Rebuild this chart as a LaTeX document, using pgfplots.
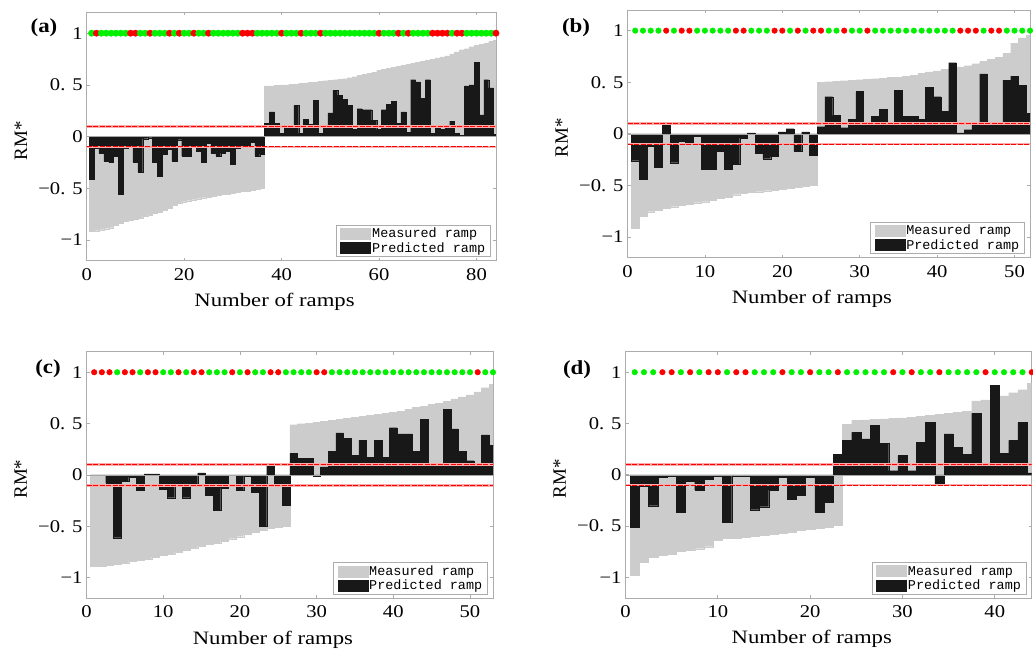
\documentclass[border=0pt]{standalone}
\usepackage{fontspec}
\setmainfont{Liberation Serif}
\newfontfamily\legfont{Liberation Mono}
\usepackage{pgfplots}
\usepackage{pgfplotstable}
\pgfplotsset{compat=1.18}
\definecolor{measgray}{RGB}{204,204,204}
\definecolor{predblk}{RGB}{24,24,24}
\definecolor{dotgreen}{RGB}{0,240,0}
\definecolor{dotred}{RGB}{250,0,0}
\definecolor{halo}{RGB}{255,170,170}

% i = ramp index, m = measured ramp, p = predicted ramp, c = 1 correct (green) / 0 wrong (red)
\pgfplotstableread{
i m p c
1 -0.913 -0.41 1
2 -0.91 -0.11 0
3 -0.90 -0.16 1
4 -0.89 -0.24 1
5 -0.88 -0.25 1
6 -0.86 -0.19 1
7 -0.84 -0.56 1
8 -0.82 -0.11 1
9 -0.81 -0.08 0
10 -0.80 -0.25 0
11 -0.79 -0.34 1
12 -0.77 -0.02 1
13 -0.76 -0.01 0
14 -0.74 -0.25 1
15 -0.73 -0.38 1
16 -0.71 -0.17 1
17 -0.69 -0.12 0
18 -0.66 -0.24 1
19 -0.64 -0.03 0
20 -0.63 -0.19 1
21 -0.62 -0.19 1
22 -0.61 -0.08 0
23 -0.60 -0.14 1
24 -0.59 -0.25 1
25 -0.585 -0.06 0
26 -0.58 -0.16 1
27 -0.57 -0.19 1
28 -0.56 -0.16 1
29 -0.555 -0.14 1
30 -0.55 -0.27 1
31 -0.54 -0.11 1
32 -0.53 -0.10 0
33 -0.525 -0.10 0
34 -0.52 -0.05 0
35 -0.51 -0.19 1
36 -0.50 -0.17 1
37 0.49 0.13 1
38 0.49 0.24 1
39 0.495 0.13 1
40 0.50 0.03 0
41 0.50 0.10 1
42 0.505 0.10 1
43 0.51 0.30 1
44 0.515 0.03 0
45 0.52 0.17 1
46 0.525 0.12 1
47 0.53 0.35 1
48 0.535 0.03 0
49 0.54 0.10 1
50 0.545 0.23 1
51 0.55 0.45 1
52 0.555 0.40 1
53 0.56 0.36 1
54 0.57 0.30 1
55 0.58 0.07 1
56 0.59 0.27 1
57 0.60 0.26 1
58 0.61 0.26 1
59 0.62 0.16 1
60 0.64 0.07 0
61 0.65 0.26 1
62 0.66 0.31 1
63 0.67 0.34 1
64 0.68 0.13 0
65 0.69 0.24 1
66 0.70 0.04 0
67 0.71 0.55 1
68 0.72 0.53 1
69 0.73 0.37 1
70 0.74 0.55 1
71 0.75 0.03 0
72 0.76 0.08 0
73 0.77 0.07 0
74 0.78 0.08 0
75 0.80 0.15 1
76 0.82 0.03 0
77 0.84 0.01 0
78 0.85 0.49 1
79 0.87 0.50 1
80 0.88 0.72 1
81 0.89 0.21 1
82 0.90 0.55 1
83 0.92 0.47 1
84 0.93 0.02 0
}\tabA

\pgfplotstableread{
i m p c
1 -0.916 -0.26 1
2 -0.80 -0.44 1
3 -0.754 -0.12 1
4 -0.738 -0.32 1
5 -0.72 0.10 0
6 -0.705 -0.28 1
7 -0.69 -0.07 0
8 -0.68 -0.09 0
9 -0.667 -0.02 1
10 -0.657 -0.34 1
11 -0.64 -0.34 1
12 -0.625 -0.17 1
13 -0.61 -0.34 1
14 -0.59 -0.29 0
15 -0.576 -0.04 0
16 -0.566 0.01 1
17 -0.56 -0.19 1
18 -0.55 -0.24 1
19 -0.544 -0.22 0
20 -0.537 0.02 0
21 -0.527 0.05 1
22 -0.518 -0.17 0
23 -0.505 0.02 1
24 -0.495 -0.21 0
25 0.50 0.07 0
26 0.505 0.36 1
27 0.51 0.18 1
28 0.515 0.06 0
29 0.52 0.14 1
30 0.525 0.41 1
31 0.53 0.10 0
32 0.535 0.17 1
33 0.54 0.24 1
34 0.545 0.10 1
35 0.55 0.42 1
36 0.56 0.17 1
37 0.57 0.17 1
38 0.585 0.14 1
39 0.60 0.45 1
40 0.61 0.36 1
41 0.625 0.22 1
42 0.64 0.69 1
43 0.65 0.01 0
44 0.66 0.04 0
45 0.68 0.09 0
46 0.70 0.58 1
47 0.72 0.08 0
48 0.74 0.10 0
49 0.78 0.52 1
50 0.88 0.56 1
51 0.93 0.47 1
52 0.96 0.20 1
}\tabB

\pgfplotstableread{
i m p c
1 -0.89 0.00 0
2 -0.89 0.00 0
3 -0.88 -0.08 0
4 -0.87 -0.61 1
5 -0.86 -0.06 0
6 -0.84 -0.02 0
7 -0.83 -0.15 1
8 -0.82 0.01 0
9 -0.80 0.01 0
10 -0.78 -0.14 1
11 -0.77 -0.22 1
12 -0.75 -0.11 0
13 -0.73 -0.22 1
14 -0.71 -0.09 0
15 -0.69 0.02 0
16 -0.67 -0.20 1
17 -0.66 -0.34 1
18 -0.64 -0.13 1
19 -0.62 0.00 0
20 -0.60 -0.15 1
21 -0.58 -0.01 0
22 -0.56 -0.17 1
23 -0.54 -0.50 1
24 -0.52 0.09 0
25 -0.51 -0.08 0
26 -0.50 -0.29 1
27 0.49 0.21 1
28 0.50 0.16 1
29 0.505 0.16 1
30 0.51 -0.01 0
31 0.52 0.08 0
32 0.53 0.23 1
33 0.54 0.41 1
34 0.55 0.36 1
35 0.56 0.19 1
36 0.57 0.34 1
37 0.58 0.17 1
38 0.59 0.34 1
39 0.60 0.17 1
40 0.61 0.46 1
41 0.62 0.40 1
42 0.64 0.40 1
43 0.66 0.23 1
44 0.67 0.54 1
45 0.69 0.10 1
46 0.70 0.10 1
47 0.72 0.64 1
48 0.74 0.45 1
49 0.76 0.23 1
50 0.78 0.14 1
51 0.81 0.10 0
52 0.85 0.39 1
53 0.88 0.29 1
}\tabC

\pgfplotstableread{
i m p c
1 -0.98 -0.51 1
2 -0.85 -0.11 1
3 -0.80 -0.30 1
4 -0.78 -0.02 0
5 -0.77 -0.01 0
6 -0.745 -0.36 1
7 -0.735 -0.06 0
8 -0.72 -0.15 1
9 -0.70 -0.04 0
10 -0.64 -0.01 0
11 -0.62 -0.46 1
12 -0.615 -0.01 0
13 -0.61 -0.01 0
14 -0.60 -0.34 1
15 -0.59 -0.31 1
16 -0.58 -0.15 1
17 -0.57 -0.02 0
18 -0.56 -0.24 1
19 -0.54 -0.20 1
20 -0.53 -0.02 0
21 -0.52 -0.36 1
22 -0.51 -0.27 1
23 -0.49 0.20 0
24 0.49 0.335 1
25 0.53 0.415 1
26 0.535 0.35 1
27 0.54 0.48 1
28 0.545 0.31 1
29 0.55 0.04 0
30 0.555 0.19 1
31 0.56 0.04 0
32 0.57 0.32 1
33 0.58 0.51 1
34 0.59 -0.10 0
35 0.60 0.40 1
36 0.61 0.27 1
37 0.62 0.20 1
38 0.72 0.60 1
39 0.73 0.10 0
40 0.75 0.87 1
41 0.77 0.21 1
42 0.80 0.335 1
43 0.83 0.51 1
44 0.89 0.02 0
}\tabD

\pgfplotsset{
  panel/.style={
    scale only axis,
    xmin=0, ymin=-1.2, ymax=1.2,
    ytick={-1,-0.5,0,0.5,1},
    yticklabels={−1,−0. 5,0,0. 5,1},
    tick align=inside,
    axis line style={gray!65, line width=0.8bp},
    tick style={gray!65, line width=0.7bp},
    major tick length=3bp,
    ticklabel style={font=\fontsize{18}{18}\selectfont, xscale=1.15},
    xticklabel style={yshift=-4bp},
    /pgf/number format/assume math mode=true,
    xlabel={Number of ramps},
    ylabel={RM*},
    xlabel style={font=\fontsize{19}{19}\selectfont, xscale=1.2, xshift=-14bp, yshift=-6bp},
    ylabel style={font=\fontsize{19}{19}\selectfont, xshift=-4bp, yshift=4bp},
    colormap={rg}{color=(dotred) color=(dotgreen)},
    point meta min=0, point meta max=1,
    legend style={at={(0.988,0.015)}, anchor=south east, draw=gray!65,
      line width=0.8bp, fill=white, inner xsep=4bp, inner ysep=1.5bp,
      row sep=0bp, font=\legfont\fontsize{13.5}{13.5}\selectfont,
      nodes={inner sep=1.5bp}},
    legend cell align=left,
  },
  meas/.style={ybar, bar width=1, bar shift=0pt, fill=measgray, draw=measgray, line width=0.2bp,
    legend image code/.code={\fill[measgray] (0bp,-5.5bp) rectangle (30bp,5.5bp);}},
  pred/.style={ybar, bar width=1, bar shift=0pt, fill=predblk, draw=predblk, line width=0.2bp,
    legend image code/.code={\fill[predblk] (0bp,-5.5bp) rectangle (30bp,5.5bp);}},
  thrhalo/.style={forget plot, color=halo, line width=2.6bp},
  thr/.style={forget plot, color=dotred, dash pattern=on 5bp off 1.5bp, line width=1bp},
  zl/.style={forget plot, gray!70, line width=0.5bp},
  dots/.style={forget plot, scatter, only marks, mark=*, mark size=#1,
    point meta=explicit,
    scatter/use mapped color={draw=mapped color, fill=mapped color}},
  dots/.default=2.8bp,
}

\begin{document}
\begin{tikzpicture}
\path[use as bounding box] (0,0) rectangle (1033bp,655bp);

% (a)
\begin{axis}[panel, at={(86.7bp,394.3bp)}, anchor=south west,
  width=409.3bp, height=248.2bp, xmax=84, xtick={0,20,40,60,80}]
  \addplot[meas] table[x=i,y=m] {\tabA};
  \addlegendentry{Measured ramp}
  \addplot[pred] table[x=i,y=p] {\tabA};
  \addlegendentry{Predicted ramp}
  \addplot[zl] coordinates {(0,0) (84,0)};
  \addplot[thrhalo] coordinates {(0,0.1) (84,0.1)};
  \addplot[thrhalo] coordinates {(0,-0.1) (84,-0.1)};
  \addplot[thr] coordinates {(0,0.1) (84,0.1)};
  \addplot[thr] coordinates {(0,-0.1) (84,-0.1)};
  \addplot[dots=3.2bp] table[x=i, y expr=1, meta=c] {\tabA};
\end{axis}

% (b)
\begin{axis}[panel, at={(627.5bp,397.3bp)}, anchor=south west,
  width=402.5bp, height=247.7bp, xmax=52, xtick={0,10,20,30,40,50}]
  \addplot[meas] table[x=i,y=m] {\tabB};
  \addlegendentry{Measured ramp}
  \addplot[pred] table[x=i,y=p] {\tabB};
  \addlegendentry{Predicted ramp}
  \addplot[zl] coordinates {(0,0) (52,0)};
  \addplot[thrhalo] coordinates {(0,0.1) (52,0.1)};
  \addplot[thrhalo] coordinates {(0,-0.1) (52,-0.1)};
  \addplot[thr] coordinates {(0,0.1) (52,0.1)};
  \addplot[thr] coordinates {(0,-0.1) (52,-0.1)};
  \addplot[dots] table[x=i, y expr=1, meta=c] {\tabB};
\end{axis}

% (c)
\begin{axis}[panel, at={(86.5bp,56.7bp)}, anchor=south west,
  width=406.5bp, height=246.6bp, xmax=53, xtick={0,10,20,30,40,50}]
  \addplot[meas] table[x=i,y=m] {\tabC};
  \addlegendentry{Measured ramp}
  \addplot[pred] table[x=i,y=p] {\tabC};
  \addlegendentry{Predicted ramp}
  \addplot[zl] coordinates {(0,0) (53,0)};
  \addplot[thrhalo] coordinates {(0,0.1) (53,0.1)};
  \addplot[thrhalo] coordinates {(0,-0.1) (53,-0.1)};
  \addplot[thr] coordinates {(0,0.1) (53,0.1)};
  \addplot[thr] coordinates {(0,-0.1) (53,-0.1)};
  \addplot[dots] table[x=i, y expr=1, meta=c] {\tabC};
\end{axis}

% (d)
\begin{axis}[panel, at={(625.5bp,57bp)}, anchor=south west,
  width=406.2bp, height=246.3bp, xmax=44, xtick={0,10,20,30,40}]
  \addplot[meas] table[x=i,y=m] {\tabD};
  \addlegendentry{Measured ramp}
  \addplot[pred] table[x=i,y=p] {\tabD};
  \addlegendentry{Predicted ramp}
  \addplot[zl] coordinates {(0,0) (44,0)};
  \addplot[thrhalo] coordinates {(0,0.1) (44,0.1)};
  \addplot[thrhalo] coordinates {(0,-0.1) (44,-0.1)};
  \addplot[thr] coordinates {(0,0.1) (44,0.1)};
  \addplot[thr] coordinates {(0,-0.1) (44,-0.1)};
  \addplot[dots] table[x=i, y expr=1, meta=c] {\tabD};
\end{axis}

\node[font=\bfseries\fontsize{20}{20}\selectfont, xscale=1.15] at (44bp,627bp) {(a)};
\node[font=\bfseries\fontsize{20}{20}\selectfont, xscale=1.15] at (576bp,627bp) {(b)};
\node[font=\bfseries\fontsize{20}{20}\selectfont, xscale=1.15] at (48bp,286bp) {(c)};
\node[font=\bfseries\fontsize{20}{20}\selectfont, xscale=1.15] at (577bp,285bp) {(d)};
\end{tikzpicture}
\end{document}
